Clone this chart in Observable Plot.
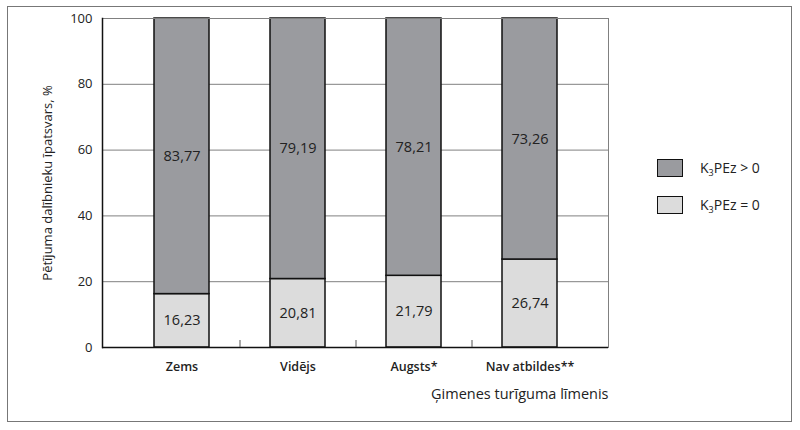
<!DOCTYPE html>
<html>
<head>
<meta charset="utf-8">
<script src="https://cdn.jsdelivr.net/npm/d3@7"></script>
<script src="https://cdn.jsdelivr.net/npm/@observablehq/plot@0.6"></script>
<style>
  body { margin: 0; background: #fff; font-family: "Open Sans", "DejaVu Sans", sans-serif; }
  #wrap { position: relative; width: 800px; height: 430px; }
  #outer { position: absolute; left: 7px; top: 6px; width: 785px; height: 416px; border: 1.5px solid #777; box-sizing: border-box; pointer-events: none; }
  #legend { position: absolute; left: 657px; top: 159px; font-size: 14px; color: #222; }
  .item { display: flex; align-items: center; height: 18px; margin-bottom: 19px; }
  .sw { width: 26px; height: 18px; border: 1.5px solid #111; box-sizing: border-box; margin-right: 17px; }
  sub { font-size: 9px; vertical-align: -3px; }
</style>
</head>
<body>
<div id="wrap">
  <div id="chart"></div>
  <div id="outer"></div>
  <div id="legend"></div>
</div>
<script>
const categories = ["Zems", "Vidējs", "Augsts*", "Nav atbildes**"];
const seriesZero = [16.23, 20.81, 21.79, 26.74];      // K3PEz = 0
const seriesPositive = [83.77, 79.19, 78.21, 73.26];  // K3PEz > 0
const seriesNames = ["K3PEz = 0", "K3PEz > 0"];
const seriesColors = ["#dcdcdc", "#9a9b9f"];
const yTicks = [0, 20, 40, 60, 80, 100];
const gridValues = [20, 40, 60, 80];
const yLabel = "Pētījuma dalībnieku īpatsvars, %";
const xLabel = "Ģimenes turīguma līmenis";

const rows = [];
categories.forEach((c, i) => {
  rows.push({cat: c, series: seriesNames[0], value: seriesZero[i]});
  rows.push({cat: c, series: seriesNames[1], value: seriesPositive[i]});
});
const fmt = v => v.toFixed(2).replace(".", ",");

const chart = Plot.plot({
  width: 800,
  height: 430,
  marginLeft: 102,
  marginRight: 192,
  marginTop: 18,
  marginBottom: 83,
  style: {fontFamily: "'Open Sans', 'DejaVu Sans', sans-serif", background: "transparent"},
  x: {domain: categories, paddingInner: 0.526, paddingOuter: 0.444, label: null},
  y: {domain: [0, 100], label: null},
  color: {domain: seriesNames, range: seriesColors},
  marks: [
    Plot.ruleY(gridValues, {stroke: "#808080", strokeWidth: 1}),
    Plot.barY(rows, {x: "cat", y: "value", fill: "series", stroke: "#111", strokeWidth: 1.5}),
    Plot.text(rows, Plot.stackY({x: "cat", y: "value", text: d => fmt(d.value), fontSize: 14.5, fill: "#222"})),
    Plot.frame({stroke: "#808080", strokeWidth: 1}),
    Plot.frame({anchor: "left", stroke: "#111", strokeWidth: 1.5}),
    Plot.ruleY([0], {stroke: "#111", strokeWidth: 1.5}),
    Plot.ruleX(categories.slice(1), {x: d => d, dx: -58, y1: 0, y2: 0, insetTop: -7, stroke: "#555", strokeWidth: 1}),
    Plot.axisY({ticks: yTicks, tickSize: 0, tickPadding: 10, fontSize: 13, label: yLabel, labelAnchor: "center", labelArrow: "none", labelOffset: 60, color: "#222"}),
    Plot.axisX({tickSize: 0, tickPadding: 15, fontSize: 12.5, fontWeight: 600, label: null, color: "#222"}),
    Plot.text([xLabel], {frameAnchor: "bottom-right", textAnchor: "end", dy: 51, fontSize: 14.5, fill: "#222"})
  ]
});
document.getElementById("chart").appendChild(chart);

// legend
const legend = document.getElementById("legend");
[[1, "&gt; 0"], [0, "= 0"]].forEach(([i, tail]) => {
  const it = document.createElement("div");
  it.className = "item";
  it.innerHTML = `<div class="sw" style="background:${seriesColors[i]}"></div><span>K<sub>3</sub>PEz ${tail}</span>`;
  legend.appendChild(it);
});
</script>
</body>
</html>
